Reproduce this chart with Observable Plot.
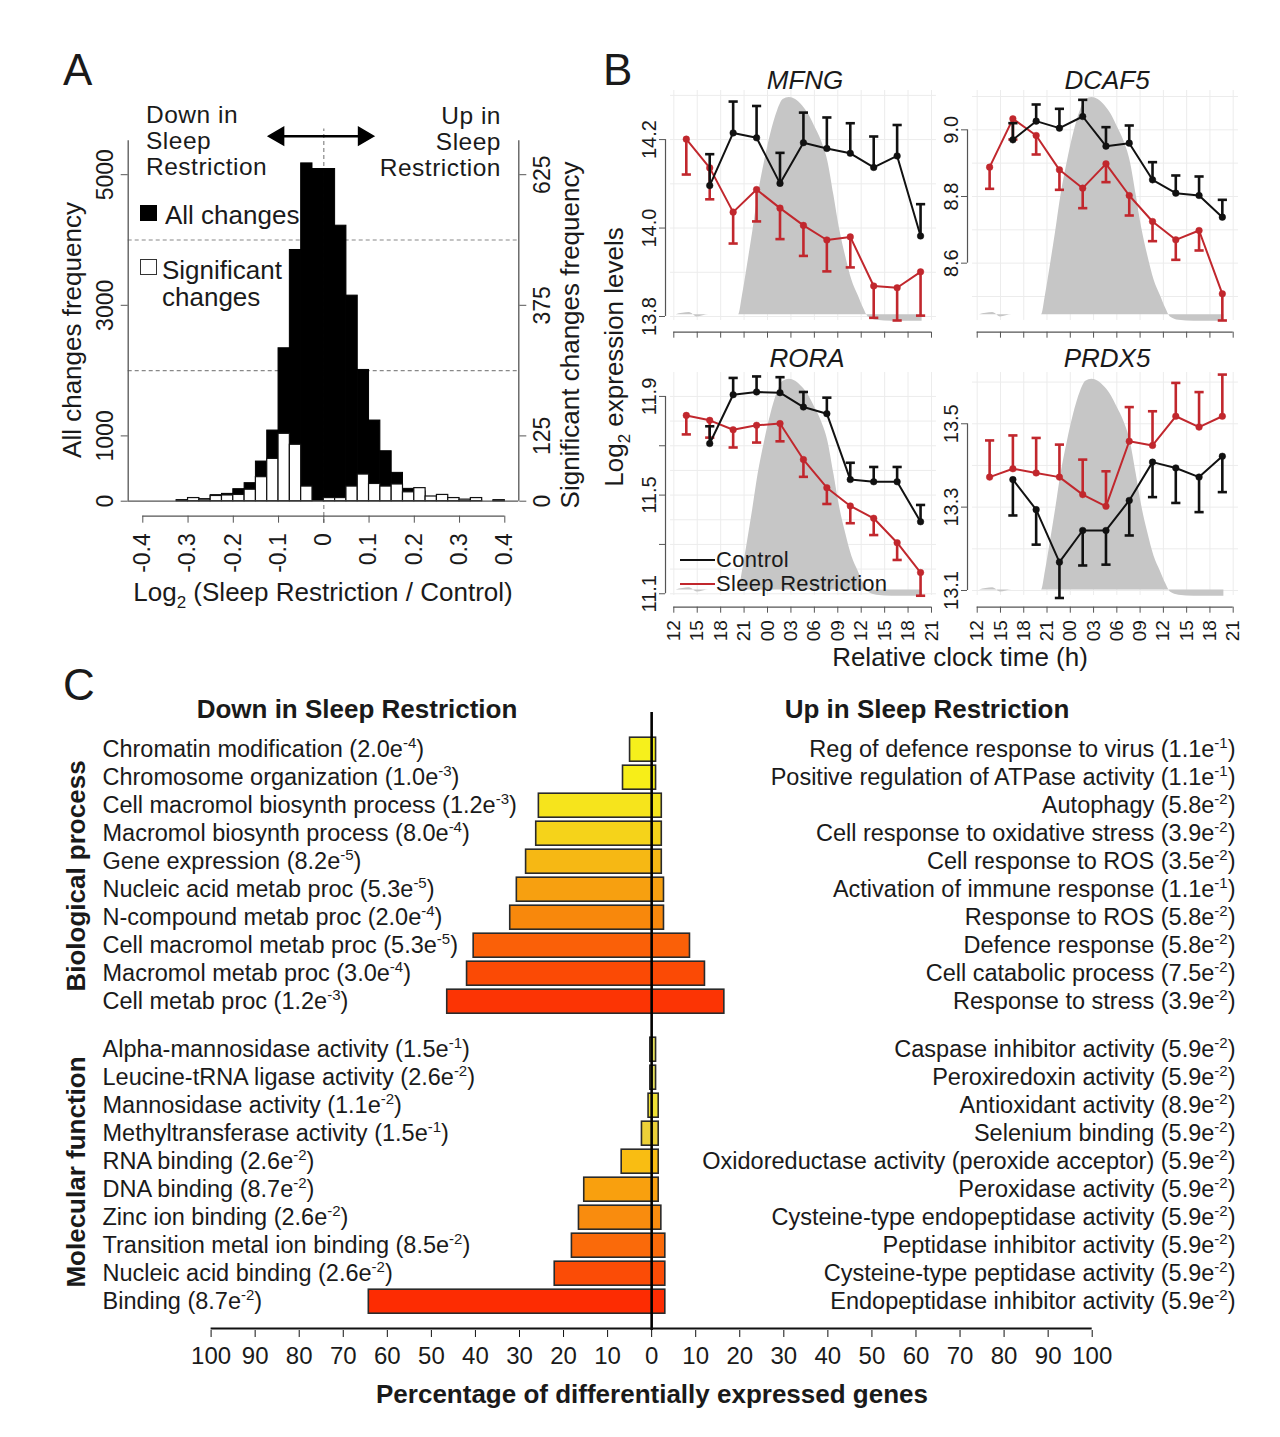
<!DOCTYPE html>
<html><head><meta charset="utf-8">
<script src="https://cdn.jsdelivr.net/npm/d3@7"></script>
<script src="https://cdn.jsdelivr.net/npm/@observablehq/plot@0.6"></script>
<style>
html,body{margin:0;padding:0;background:#fff;}
#fig{position:relative;width:1280px;height:1437px;background:#fff;font-family:"Liberation Sans",Arial,Helvetica,sans-serif;color:#1a1a1a;overflow:hidden;}
.lbl{position:absolute;white-space:nowrap;line-height:1;transform-origin:0 0;}
</style></head><body><div id="fig"></div>
<script>
// ---------------- Panel A data ----------------
const binLo = [-0.4,-0.375,-0.35,-0.325,-0.3,-0.275,-0.25,-0.225,-0.2,-0.175,-0.15,-0.125,-0.1,-0.075,-0.05,-0.025,0,0.025,0.05,0.075,0.1,0.125,0.15,0.175,0.2,0.225,0.25,0.275,0.3,0.325,0.35,0.375];
const binWidth = 0.025;
const allCounts = [0,0,0,10,20,30,92,112,184,276,607,1082,2342,3847,5173,5087,5087,4219,3148,2010,1235,765,434,189,150,60,40,20,10,8,0,4];
const sigCounts = [0,0,0,2,6,3,10,11,12,22,46,81,129,108,28,0,6,6,28,51,33,28,32,17,25,9,12,6,3,6,0,2];
const sigToAll = 8; // right axis = left axis / 8
const aLeftTicks = [0,1000,3000,5000];
const aLeftTickLabels = ["0","1000","3000","5000"];
const aRightTickLabels = ["0","125","375","625"];
const aGrid = [2000,4000];
const aXTicks = [-0.4,-0.3,-0.2,-0.1,0,0.1,0.2,0.3,0.4];
const aXTickLabels = ["-0.4","-0.3","-0.2","-0.1","0","0.1","0.2","0.3","0.4"];

// ---------------- Panel B data ----------------
const genes = ["MFNG","DCAF5","RORA","PRDX5"];
const srHours = [13.6,16.6,19.6,22.6,25.6,28.6,31.6,34.6,37.6,40.6,43.6];
const ctrlHours = [16.6,19.6,22.6,25.6,28.6,31.6,34.6,37.6,40.6,43.6];
const ctrlMean = [
  [14.096,14.215,14.204,14.101,14.193,14.180,14.169,14.137,14.163,13.982],
  [8.970,9.026,9.005,9.040,8.951,8.960,8.850,8.810,8.803,8.738],
  [11.709,11.907,11.918,11.915,11.857,11.830,11.563,11.554,11.554,11.392],
  [13.366,13.294,13.168,13.244,13.244,13.316,13.408,13.394,13.372,13.422]
];
const ctrlSE = [
  [0.071,0.071,0.072,0.069,0.068,0.070,0.068,0.070,0.070,0.072],
  [0.050,0.050,0.058,0.050,0.057,0.053,0.053,0.053,0.057,0.052],
  [0.070,0.068,0.063,0.063,0.061,0.065,0.068,0.060,0.060,0.068],
  [0.086,0.084,0.086,0.084,0.082,0.084,0.084,0.084,0.084,0.086]
];
const srMean = [
  [14.201,14.136,14.036,14.087,14.045,14.006,13.973,13.980,13.869,13.865,13.901],
  [8.888,9.033,8.983,8.880,8.825,8.898,8.803,8.725,8.670,8.698,8.508],
  [11.823,11.803,11.765,11.783,11.790,11.644,11.530,11.456,11.406,11.307,11.186],
  [13.372,13.392,13.382,13.372,13.330,13.302,13.458,13.448,13.518,13.492,13.518]
];
const srSE = [
  [0.080,0.071,0.071,0.072,0.070,0.069,0.071,0.069,0.072,0.074,0.099],
  [0.065,0.062,0.057,0.060,0.060,0.055,0.060,0.059,0.060,0.060,0.080],
  [0.077,0.070,0.072,0.070,0.072,0.070,0.066,0.070,0.068,0.070,0.094],
  [0.088,0.080,0.084,0.078,0.084,0.084,0.082,0.082,0.080,0.084,0.100]
];
const ctrlErrSign = [1,1,1,-1];
const srErrSign = [-1,-1,-1,1];
// sleep (grey) profile, relative level 0..1
const sleepHours = [12.3,14.0,15.0,16.5,20.3,20.8,21.4,22.1,22.8,23.6,24.4,25.3,26.0,26.8,27.6,28.5,29.3,30.0,30.9,31.7,32.5,33.2,34.0,34.8,35.6,36.3,36.9,38.0,40.0,42.0,43.8];
const sleepLevel = [0.0,0.01,-0.01,0.0,0.0,0.09,0.22,0.38,0.55,0.70,0.83,0.94,0.99,1.0,0.99,0.96,0.92,0.87,0.80,0.71,0.55,0.40,0.27,0.16,0.09,0.03,-0.01,-0.025,-0.03,-0.03,-0.03];
const bXTicks = [12,15,18,21,24,27,30,33,36,39,42,45];
const bXTickLabels = ["12","15","18","21","00","03","06","09","12","15","18","21"];
const bYDomains = [[13.791,14.311],[8.428,9.118],[11.093,11.997],[13.088,13.623]];
const bYTicks = [[13.8,14.0,14.2],[8.6,8.8,9.0],[11.1,11.3,11.5,11.7,11.9],[13.1,13.3,13.5]];
const bYTickLabels = [["13.8","14.0","14.2"],["8.6","8.8","9.0"],["11.1","","11.5","","11.9"],["13.1","13.3","13.5"]];

// ---------------- Panel C data ----------------
const groups = ["Biological process","Molecular function"];
const bioDownTerms = ["Chromatin modification","Chromosome organization","Cell macromol biosynth process","Macromol biosynth process","Gene expression","Nucleic acid metab proc","N-compound metab proc","Cell macromol metab proc","Macromol metab proc","Cell metab proc"];
const bioDownP = ["2.0e-4","1.0e-3","1.2e-3","8.0e-4","8.2e-5","5.3e-5","2.0e-4","5.3e-5","3.0e-4","1.2e-3"];
const bioUpTerms = ["Reg of defence response to virus","Positive regulation of ATPase activity","Autophagy","Cell response to oxidative stress","Cell response to ROS","Activation of immune response","Response to ROS","Defence response","Cell catabolic process","Response to stress"];
const bioUpP = ["1.1e-1","1.1e-1","5.8e-2","3.9e-2","3.5e-2","1.1e-1","5.8e-2","5.8e-2","7.5e-2","3.9e-2"];
const bioDown = [4.9,6.5,25.6,26.2,28.5,30.6,32.1,40.4,41.9,46.4];
const bioUp = [1.0,1.0,2.3,2.3,2.3,2.8,2.8,8.7,12.1,16.5];
const molDownTerms = ["Alpha-mannosidase activity","Leucine-tRNA ligase activity","Mannosidase activity","Methyltransferase activity","RNA binding","DNA binding","Zinc ion binding","Transition metal ion binding","Nucleic acid binding","Binding"];
const molDownP = ["1.5e-1","2.6e-2","1.1e-2","1.5e-1","2.6e-2","8.7e-2","2.6e-2","8.5e-2","2.6e-2","8.7e-2"];
const molUpTerms = ["Caspase inhibitor activity","Peroxiredoxin activity","Antioxidant activity","Selenium binding","Oxidoreductase activity (peroxide acceptor)","Peroxidase activity","Cysteine-type endopeptidase activity","Peptidase inhibitor activity","Cysteine-type peptidase activity","Endopeptidase inhibitor activity"];
const molUpP = ["5.9e-2","5.9e-2","8.9e-2","5.9e-2","5.9e-2","5.9e-2","5.9e-2","5.9e-2","5.9e-2","5.9e-2"];
const molDown = [0.3,0.3,0.7,2.2,6.8,15.3,16.5,18.1,22.0,64.2];
const molUp = [1.0,1.0,1.6,1.6,1.6,1.6,2.2,3.1,3.1,3.1];
const cXTicks = [-100,-90,-80,-70,-60,-50,-40,-30,-20,-10,0,10,20,30,40,50,60,70,80,90,100];
const cXTickLabels = ["100","90","80","70","60","50","40","30","20","10","0","10","20","30","40","50","60","70","80","90","100"];
// bar colours (style)
const bioColors = ["#f6f01c","#f7ee18","#f6e41c","#f5d31a","#f6b814","#f7a010","#f8880c","#fa6008","#fb4a05","#fc3404"];
const molColors = ["#e6e05a","#e6e05a","#efe034","#ecd038","#f9bd12","#f9a00e","#f98c0e","#fa6a0a","#fb4c06","#fd2c02"];

// ---------------- helpers ----------------
const FONT = '"Liberation Sans", Arial, Helvetica, sans-serif';
const fig = document.getElementById("fig");
const RED = "#c1272d", BLK = "#111", AXIS = "#555";
function place(el, left, top){ el.style.position="absolute"; el.style.left=left+"px"; el.style.top=top+"px"; fig.appendChild(el); }
function label(html, x, y, o={}){
  const d=document.createElement("div"); d.className="lbl"; d.innerHTML=html;
  d.style.left=x+"px"; d.style.top=y+"px"; d.style.fontSize=(o.size||22)+"px";
  if(o.weight) d.style.fontWeight=o.weight; if(o.style) d.style.fontStyle=o.style;
  if(o.lh) d.style.lineHeight=o.lh+"px";
  if(o.ls) d.style.letterSpacing=o.ls+"px";
  const a=o.anchor||"start"; const tx=a==="start"?"0%":a==="middle"?"-50%":"-100%";
  d.style.textAlign = a==="start"?"left":a==="middle"?"center":"right";
  d.style.transform=`rotate(${o.rotate||0}deg) translate(${tx},-50%)`;
  fig.appendChild(d); return d;
}
const baseStyle = {fontFamily: FONT, color: "#1a1a1a", background: "transparent", overflow: "visible"};
const lookup = (ticks, labels) => d => labels[ticks.indexOf(d)];

// ---------------- Panel A ----------------
const aBins = binLo.map((lo,i)=>({lo, hi: lo+binWidth, all: allCounts[i], sig: sigCounts[i]}));
const arrowY = 5590;
const A = Plot.plot({
  width: 600, height: 620,
  marginLeft: 127.7, marginRight: 81.7, marginTop: 120, marginBottom: 104.3,
  x: {domain: [-0.4, 0.4], insetLeft: 14.6, insetRight: 14, label: null},
  y: {domain: [0, 5830], insetBottom: 15, label: null},
  style: {...baseStyle, fontSize: "23px"},
  marks: [
    Plot.ruleY(aGrid, {stroke: "#888", strokeDasharray: "4,3", strokeWidth: 1.2}),
    Plot.ruleX([0], {y1: -340, y2: 5700, stroke: "#888", strokeDasharray: "4,3", strokeWidth: 1.2}),
    Plot.rectY(aBins, {x1: "lo", x2: "hi", y: "all", fill: "#000", stroke: "#000", strokeWidth: 1}),
    Plot.rectY(aBins, {x1: "lo", x2: "hi", y: d => d.sig * sigToAll, fill: "#fff", stroke: "#111", strokeWidth: 1.2}),
    Plot.ruleY([0], {stroke: AXIS, strokeWidth: 1.3}),
    Plot.ruleX([-0.4], {y1: 0, y2: 5520, dx: -14.6, stroke: AXIS, strokeWidth: 1.3}),
    Plot.ruleX([0.4], {y1: 0, y2: 5520, dx: 14, stroke: AXIS, strokeWidth: 1.3}),
    Plot.ruleY([0], {x1: -0.4, x2: 0.4, dy: 15, stroke: AXIS, strokeWidth: 1.3}),
    Plot.link([{a: -0.1, b: 0.088}], {x1: "a", x2: "b", y1: () => arrowY, y2: () => arrowY, stroke: "#000", strokeWidth: 2.5}),
    Plot.dot([{x: -0.1, r: -90}, {x: 0.088, r: 90}], {x: "x", y: () => arrowY, rotate: "r", symbol: "triangle", r: 6.5, fill: "#000", stroke: "#000"}),
    Plot.axisY(aLeftTicks, {anchor: "left", tickSize: 7, tickPadding: 8, tickRotate: -90, lineAnchor: "bottom", fontSize: 23, stroke: AXIS, tickFormat: lookup(aLeftTicks, aLeftTickLabels), label: null}),
    Plot.axisY(aLeftTicks, {anchor: "right", tickSize: 7, tickPadding: 8, tickRotate: -90, lineAnchor: "top", fontSize: 23, stroke: AXIS, tickFormat: lookup(aLeftTicks, aRightTickLabels), label: null}),
    Plot.axisX(aXTicks, {anchor: "bottom", tickSize: 7, tickPadding: 10, tickRotate: -90, fontSize: 23, stroke: AXIS, tickFormat: lookup(aXTicks, aXTickLabels), label: null})
  ]
});
place(A, 0, 0);

// ---------------- Panel B ----------------
const capSymbol = {draw(ctx, size){ const r = Math.sqrt(size/Math.PI); ctx.moveTo(-r,0); ctx.lineTo(r,0); }};
const bGeo = [
  {axisX: 665, x12: 673.3, x45: 931, frameRight: 936, frameTop: 90, yBottom: 320, xAxisY: 331.7, labels: false},
  {axisX: 967, x12: 976.7, x45: 1232.7, frameRight: 1238, frameTop: 90, yBottom: 320, xAxisY: 331.7, labels: false},
  {axisX: 665, x12: 673.3, x45: 931, frameRight: 936, frameTop: 372, yBottom: 595, xAxisY: 606.7, labels: true},
  {axisX: 967, x12: 976.7, x45: 1232.7, frameRight: 1238, frameTop: 372, yBottom: 595, xAxisY: 606.7, labels: true}
];
genes.forEach((gname, g) => {
  const G = bGeo[g];
  const left = G.axisX - 60, top = G.frameTop - 40;
  const width = G.frameRight + 6 - left, height = G.xAxisY + 50 - top;
  const [d0, d1] = bYDomains[g];
  const span = d1 - d0;
  const ctrl = ctrlHours.map((h,i)=>({h, v: ctrlMean[g][i], e: ctrlMean[g][i] + ctrlErrSign[g]*ctrlSE[g][i]}));
  const sr = srHours.map((h,i)=>({h, v: srMean[g][i], e: srMean[g][i] + srErrSign[g]*srSE[g][i]}));
  const sleep = sleepHours.map((h,i)=>({h, lo: d0 + 0.025*span, hi: d0 + (0.025 + 0.945*sleepLevel[i])*span}));
  const gridY = d3.range(Math.ceil(d0*10 - 1e-6)/10, d1, 0.1);
  const yt = bYTicks[g];
  const series = (data, color) => [
    Plot.line(data, {x: "h", y: "v", stroke: color, strokeWidth: 2}),
    Plot.ruleX(data, {x: "h", y1: "v", y2: "e", stroke: color, strokeWidth: 2.6}),
    Plot.dot(data, {x: "h", y: "e", symbol: capSymbol, r: 4.6, stroke: color, strokeWidth: 2.6, fill: "none"}),
    Plot.dot(data, {x: "h", y: "v", r: 3.3, fill: color, stroke: color, strokeWidth: 0.5})
  ];
  const P = Plot.plot({
    width, height,
    marginLeft: G.axisX - left, marginRight: left + width - G.frameRight,
    marginTop: G.frameTop - top, marginBottom: top + height - G.xAxisY,
    x: {domain: [12, 45], insetLeft: G.x12 - G.axisX, insetRight: G.frameRight - G.x45, label: null},
    y: {domain: [d0, d1], insetBottom: G.xAxisY - G.yBottom, label: null},
    style: {...baseStyle, fontSize: "20px"},
    marks: [
      Plot.ruleY(gridY, {stroke: "#ececec", strokeWidth: 1, insetLeft: 5}),
      Plot.ruleX(bXTicks, {y1: d0, y2: d1, stroke: "#ececec", strokeWidth: 1}),
      Plot.areaY(sleep, {x: "h", y1: "lo", y2: "hi", fill: "#c6c6c6", curve: "monotone-x"}),
      ...(srErrSign[g] > 0 ? [...series(ctrl, BLK), ...series(sr, RED)] : [...series(sr, RED), ...series(ctrl, BLK)]),
      Plot.ruleX([12], {y1: yt[0], y2: yt[yt.length-1], dx: -(G.x12 - G.axisX), stroke: AXIS, strokeWidth: 1.2}),
      Plot.ruleY([d0], {x1: 12, x2: 45, dy: G.xAxisY - G.yBottom, stroke: AXIS, strokeWidth: 1.2}),
      Plot.axisY(yt, {anchor: "left", tickSize: 6, tickPadding: 4, tickRotate: -90, lineAnchor: "bottom", fontSize: 20, stroke: AXIS, tickFormat: lookup(yt, bYTickLabels[g]), label: null}),
      Plot.axisX(bXTicks, {anchor: "bottom", tickSize: 6, tickPadding: 7, tickRotate: -90, fontSize: 19, stroke: AXIS, tickFormat: G.labels ? lookup(bXTicks, bXTickLabels) : () => "", label: null})
    ]
  });
  place(P, left, top);
});

// ---------------- Panel C ----------------
const rows = [];
bioDownTerms.forEach((t,i)=>rows.push({group: groups[0], i, down: bioDown[i], up: bioUp[i], left: `${t} (${bioDownP[i]})`, right: `${bioUpTerms[i]} (${bioUpP[i]})`, color: bioColors[i]}));
molDownTerms.forEach((t,i)=>rows.push({group: groups[1], i, down: molDown[i], up: molUp[i], left: `${t} (${molDownP[i]})`, right: `${molUpTerms[i]} (${molUpP[i]})`, color: molColors[i]}));
const cTop = 690, cLeft = 0;
const C = Plot.plot({
  width: 1280, height: 747,
  marginLeft: 210.6, marginRight: 188.3, marginTop: 43.8, marginBottom: 107.1,
  x: {domain: [-100, 100], label: null},
  y: {type: "band", domain: d3.range(10), paddingInner: 0.15, paddingOuter: 0.075, insetBottom: 12.8, axis: null, label: null},
  fy: {domain: groups, paddingInner: 0.013, paddingOuter: 0, axis: null, label: null},
  style: {...baseStyle, fontSize: "23px"},
  marks: [
    Plot.barX(rows, {fy: "group", y: "i", x1: d => -d.down, x2: "up", fill: "color", stroke: "#2a2a2a", strokeWidth: 1.6}),
    Plot.ruleX([groups[0]], {fy: d => d, x: () => 0, insetTop: -22, stroke: "#000", strokeWidth: 2.6}),
    Plot.ruleX([groups[1]], {fy: d => d, x: () => 0, insetTop: -4, stroke: "#000", strokeWidth: 2.6}),
    Plot.ruleY([groups[1]], {fy: d => d, y: () => 9, x1: -100, x2: 100, dy: 26.9, stroke: "#111", strokeWidth: 2}),
    Plot.text(rows, {fy: "group", y: "i", text: "left", frameAnchor: "left", textAnchor: "start", dx: 102 - 210.6, fontSize: 23.5, fill: "#1a1a1a"}),
    Plot.text(rows, {fy: "group", y: "i", text: "right", frameAnchor: "right", textAnchor: "end", dx: 1235 - 1091.7, fontSize: 23.5, fill: "#1a1a1a"}),
    Plot.axisX(cXTicks, {anchor: "bottom", tickSize: 7, tickPadding: 9, fontSize: 24, stroke: "#111", tickFormat: lookup(cXTicks, cXTickLabels), label: null})
  ]
});
// superscript exponents
d3.select(C).selectAll("text").each(function(){
  const s = this.textContent;
  const m = s.match(/^(.*\d\.\de)(-\d+)(\))$/);
  if (!m) return;
  const t = d3.select(this); t.text("");
  t.append("tspan").text(m[1]);
  t.append("tspan").attr("dy", -9).attr("font-size", 15).text(m[2]);
  t.append("tspan").attr("dy", 9).text(m[3]);
});
place(C, cLeft, cTop);

// ---------------- text annotations ----------------
label("A", 63, 70, {size: 44});
label("B", 603, 70, {size: 44});
label("C", 63, 685, {size: 44});
// Panel A
label("Down in<br>Sleep<br>Restriction", 146, 141, {size: 24.5, lh: 26, ls: 0.5});
label("Up in<br>Sleep<br>Restriction", 501, 142, {size: 24.5, lh: 26, ls: 0.5, anchor: "end"});
const sqA = document.createElement("div"); Object.assign(sqA.style, {position:"absolute", left:"140px", top:"205px", width:"17px", height:"16px", background:"#000"}); fig.appendChild(sqA);
const sqB = document.createElement("div"); Object.assign(sqB.style, {position:"absolute", left:"140px", top:"259px", width:"15px", height:"14px", background:"#fff", border:"1.5px solid #333"}); fig.appendChild(sqB);
label("All changes", 165, 215, {size: 26});
label("Significant<br>changes", 162, 283.5, {size: 26, lh: 27});
label("All changes frequency", 72, 330, {size: 26, anchor: "middle", rotate: -90});
label("Significant changes frequency", 570, 335, {size: 26, anchor: "middle", rotate: -90});
label("Log<sub style='font-size:17px'>2</sub> (Sleep Restriction / Control)", 323, 595, {size: 26, anchor: "middle"});
// Panel B
label("MFNG", 805, 80, {size: 26, style: "italic", anchor: "middle"});
label("DCAF5", 1107, 80, {size: 26, style: "italic", anchor: "middle"});
label("RORA", 807, 358, {size: 26, style: "italic", anchor: "middle"});
label("PRDX5", 1107, 358, {size: 26, style: "italic", anchor: "middle"});
label("Log<sub style='font-size:17px'>2</sub> expression levels", 617, 357, {size: 26, anchor: "middle", rotate: -90});
label("Relative clock time (h)", 960, 657, {size: 26, anchor: "middle"});
const l1 = document.createElement("div"); Object.assign(l1.style, {position:"absolute", left:"680px", top:"559px", width:"35px", height:"2px", background:BLK}); fig.appendChild(l1);
const l2 = document.createElement("div"); Object.assign(l2.style, {position:"absolute", left:"680px", top:"583px", width:"35px", height:"2px", background:RED}); fig.appendChild(l2);
label("Control<br>Sleep Restriction", 716, 572, {size: 22, lh: 24, ls: 0.3});
// Panel C
label("Down in Sleep Restriction", 357, 709, {size: 26, weight: "bold", anchor: "middle"});
label("Up in Sleep Restriction", 927, 709, {size: 26, weight: "bold", anchor: "middle"});
label("Biological process", 76, 876, {size: 26, weight: "bold", anchor: "middle", rotate: -90});
label("Molecular function", 76, 1172, {size: 26, weight: "bold", anchor: "middle", rotate: -90});
label("Percentage of differentially expressed genes", 652, 1394, {size: 26, weight: "bold", anchor: "middle"});
</script></body></html>
